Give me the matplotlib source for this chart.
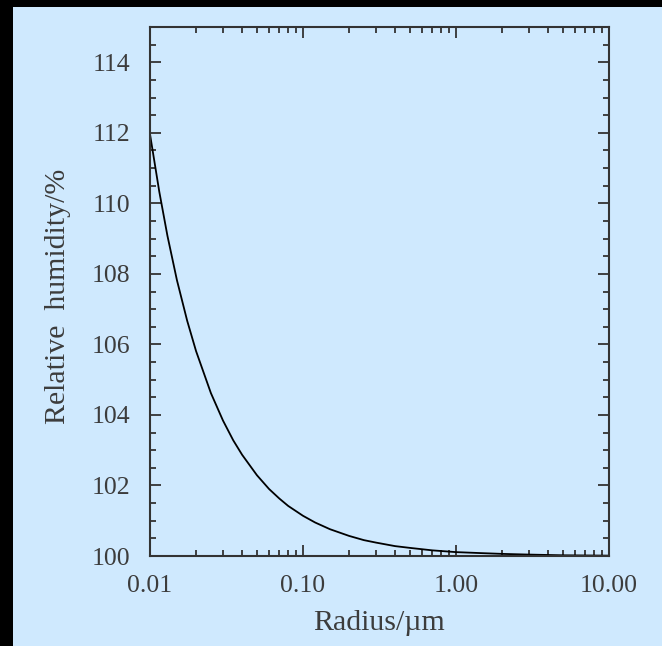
import matplotlib
matplotlib.use('Agg')
import matplotlib.pyplot as plt
from matplotlib.patches import Rectangle
from matplotlib.ticker import FixedLocator, MultipleLocator, LogLocator, NullFormatter

# values
radius = [0.01, 0.0115, 0.013, 0.015, 0.0175, 0.02, 0.025, 0.03, 0.035, 0.04,
          0.05, 0.06, 0.07, 0.08, 0.1, 0.12, 0.15, 0.2, 0.25, 0.3, 0.4, 0.5,
          0.7, 1.0, 1.5, 2.0, 3.0, 5.0, 10.0]
humidity = [111.96, 110.33, 109.08, 107.82, 106.67, 105.81, 104.62, 103.84, 103.28, 102.87,
            102.29, 101.90, 101.63, 101.42, 101.14, 100.95, 100.76, 100.57, 100.45, 100.38, 100.28, 100.23,
            100.16, 100.11, 100.08, 100.06, 100.04, 100.02, 100.01]
x_ticks = [0.01, 0.1, 1.0, 10.0]
x_tick_labels = ['0.01', '0.10', '1.00', '10.00']
y_ticks = [100, 102, 104, 106, 108, 110, 112, 114]

bg = '#cfe9fe'
txt = '#3c3c3c'
plt.rcParams['font.family'] = ['Liberation Serif', 'DejaVu Serif']

fig = plt.figure(figsize=(6.62, 6.46), dpi=100)
fig.patch.set_facecolor('black')
fig.add_artist(Rectangle((13 / 662, 0), 1, 1 - 7 / 646, transform=fig.transFigure,
                         facecolor=bg, edgecolor='none', zorder=0))

ax = fig.add_axes([150 / 662, 1 - 556 / 646, 459 / 662, 529 / 646])
ax.set_facecolor(bg)
ax.plot(radius, humidity, color='black', lw=1.3)

ax.set_xscale('log')
ax.set_xlim(0.01, 10)
ax.set_ylim(100, 115)
ax.xaxis.set_major_locator(FixedLocator(x_ticks))
ax.set_xticklabels(x_tick_labels)
ax.xaxis.set_minor_locator(LogLocator(base=10, subs=range(2, 10)))
ax.xaxis.set_minor_formatter(NullFormatter())
ax.set_yticks(y_ticks)
ax.yaxis.set_minor_locator(MultipleLocator(0.5))

for s in ax.spines.values():
    s.set_color('#333333')
    s.set_linewidth(1.5)
ax.tick_params(which='both', direction='in', top=True, right=True, color='#333333', width=1.3)
ax.tick_params(which='major', length=8, pad=14, labelsize=18.5, labelcolor=txt)
ax.tick_params(which='minor', length=4.5)

ax.set_xlabel('Radius/\u00b5m', fontsize=21.5, color=txt, labelpad=9)
ax.set_ylabel('Relative  humidity/%', fontsize=21.5, color=txt)
ax.yaxis.set_label_coords(-0.172, 0.49)

fig.savefig('out.png', dpi=100, facecolor=fig.get_facecolor())
